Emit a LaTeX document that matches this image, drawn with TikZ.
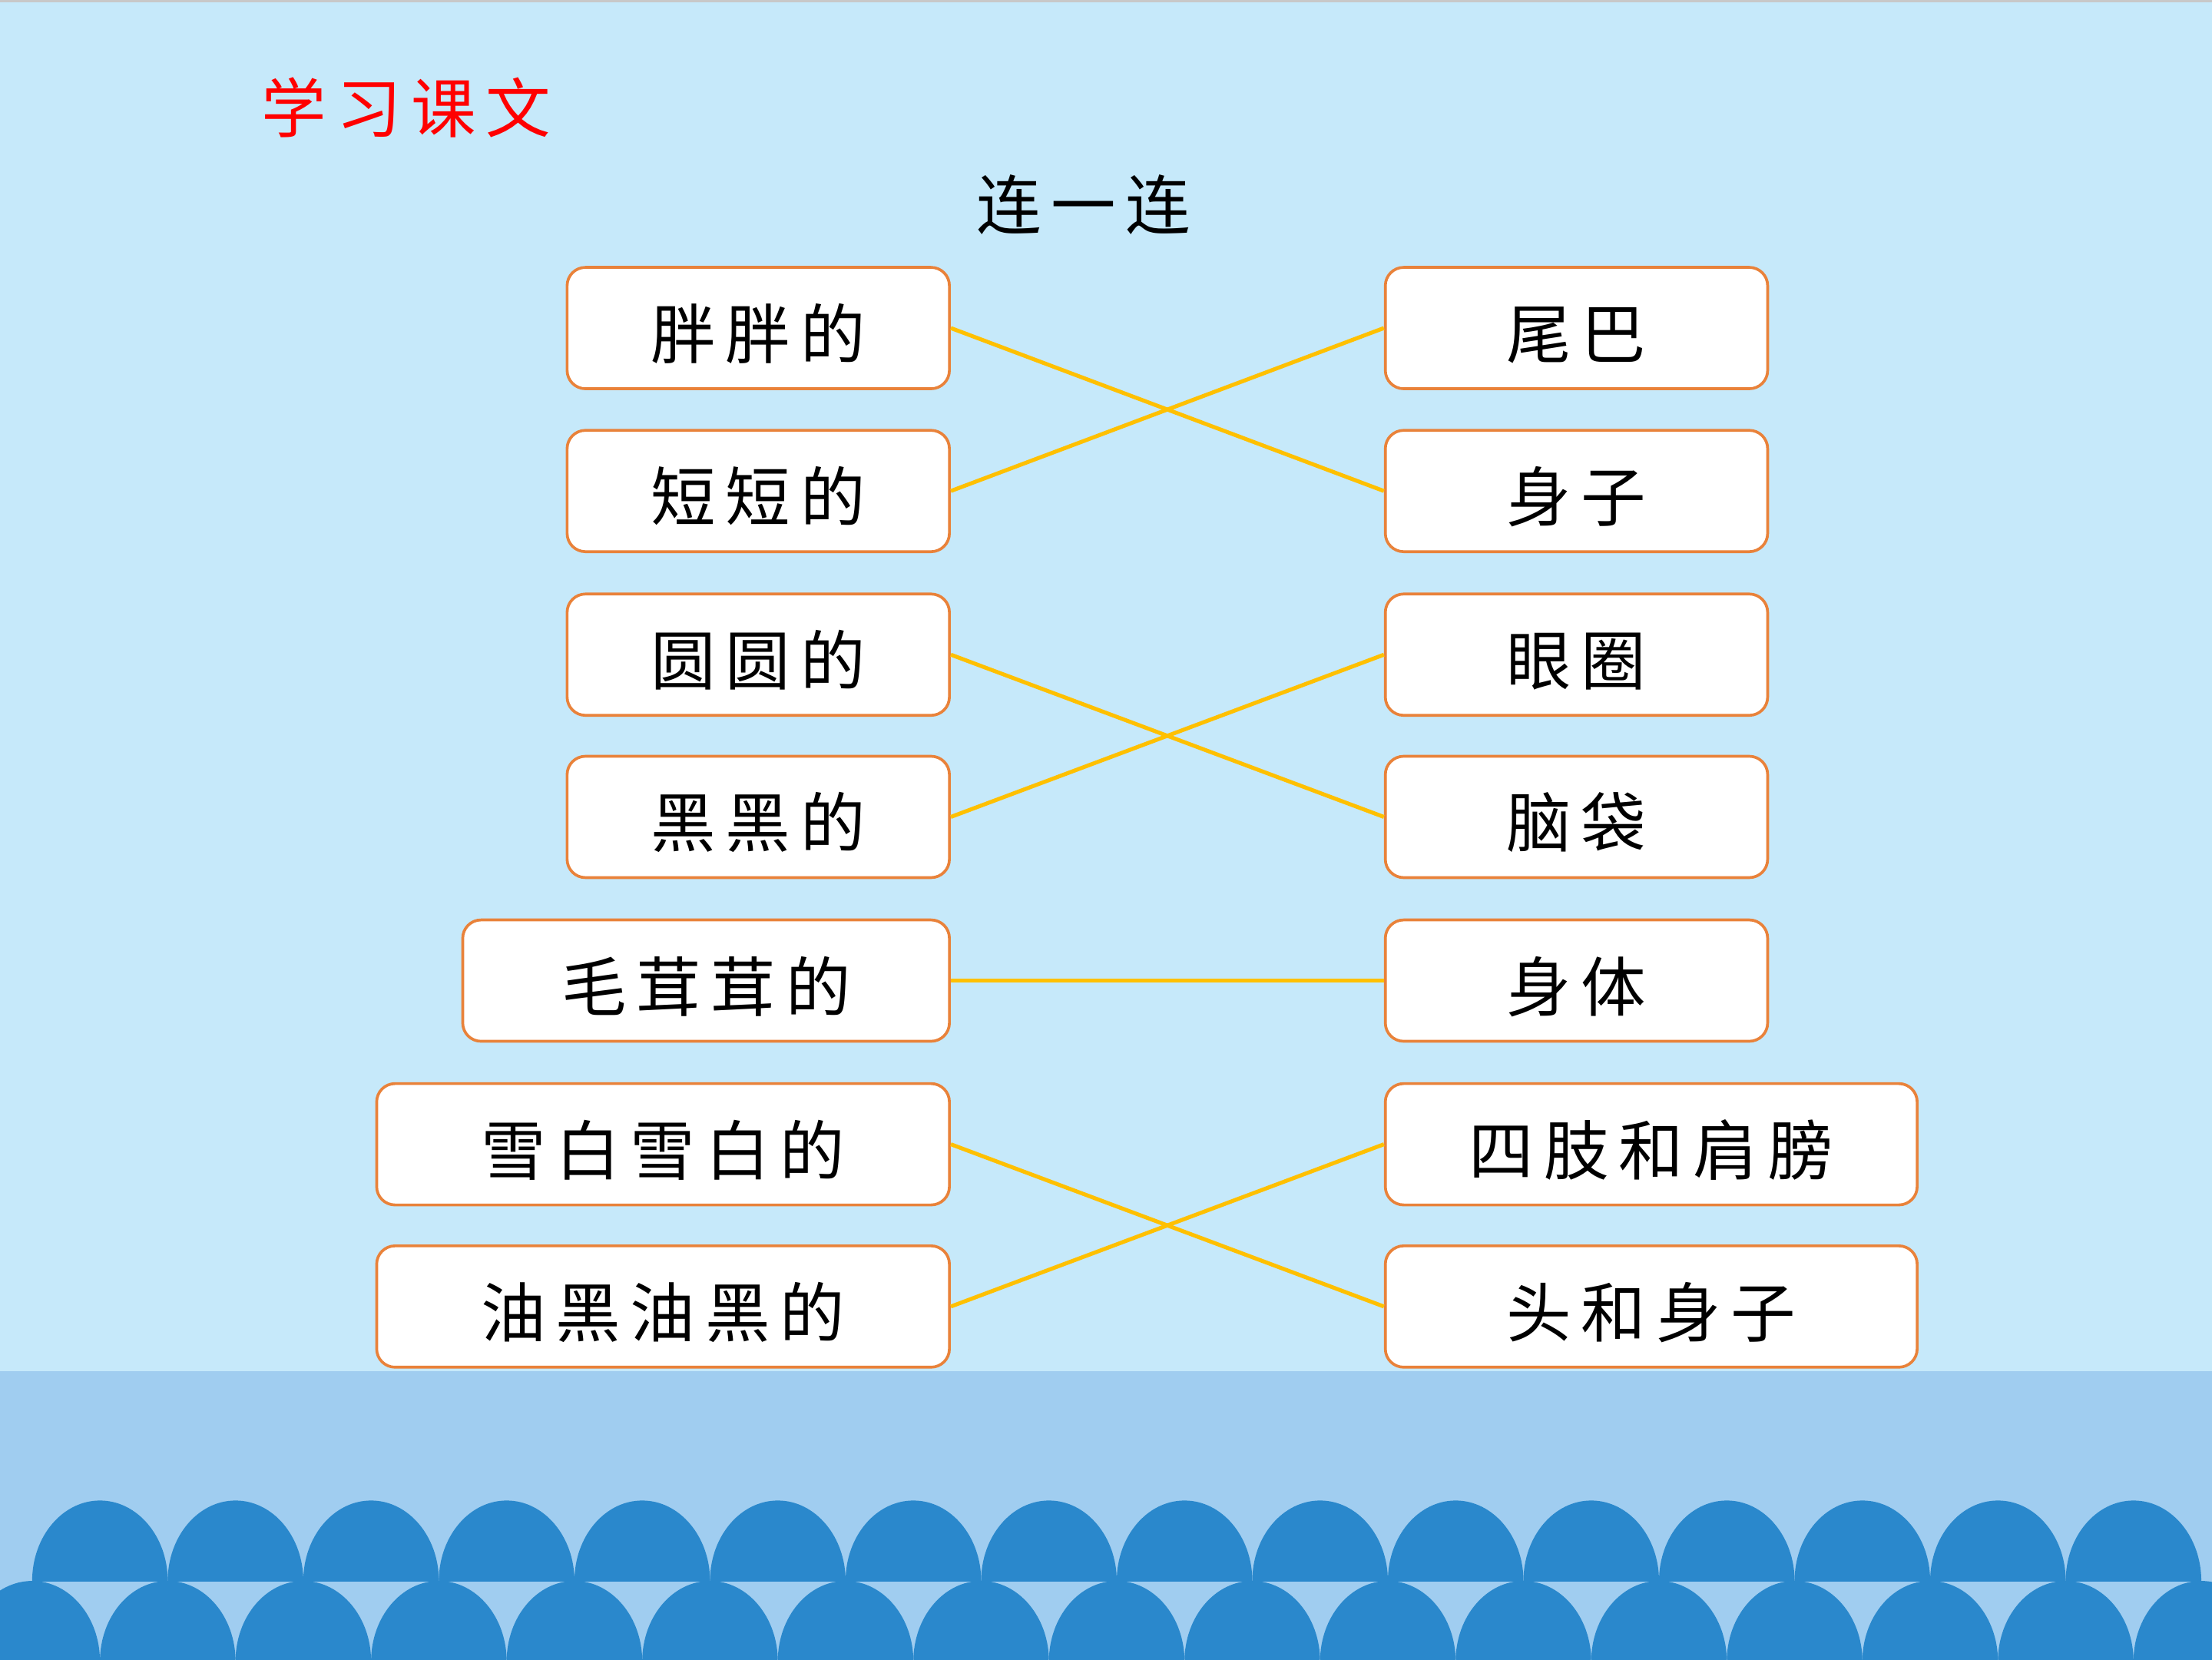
\documentclass[tikz,border=0pt]{standalone}
\usepackage{fontspec}
\newfontfamily\cjk{Noto Sans CJK SC}
\definecolor{bgtop}{HTML}{C6E9FA}
\definecolor{bgbot}{HTML}{A0CDF0}
\definecolor{wavec}{HTML}{2A88CC}
\definecolor{boxline}{HTML}{E9823A}
\definecolor{linkc}{HTML}{FFC000}
\definecolor{topgray}{HTML}{C8C8C8}
\newlength\lsgap
\setlength\lsgap{7pt}
\def\lsEnd{LSEND}
\newcommand\ls[1]{\lsA#1\lsEnd}
\def\lsA#1{#1\lsB}
\def\lsB#1{\ifx#1\lsEnd\else\hspace{\lsgap}#1\expandafter\lsB\fi}
\tikzset{
  wordbox/.style={draw=boxline, line width=2pt, fill=white, rounded corners=13pt,
    inner sep=0pt, minimum height=86pt, text height=43pt, text depth=0pt,
    font=\cjk\fontsize{46pt}{50pt}\selectfont},
  link/.style={draw=linkc, line width=2.8pt},
  heading/.style={inner sep=0pt, font=\cjk\fontsize{46pt}{50pt}\selectfont}
}
\begin{document}
\begin{tikzpicture}[x=1pt,y=-1pt]
\useasboundingbox (0,0) rectangle (1568,1176);
% background
\fill[bgtop] (0,0) rectangle (1568,972);
\fill[bgbot] (0,972) rectangle (1568,1176);
\fill[topgray] (0,0) rectangle (1568,1.8);
% waves
\begin{scope}
  \clip (0,972) rectangle (1568,1120.5);
  \foreach \k in {0,...,15}
    \fill[wavec] ({70.85+96.1*\k},1120.5) ellipse [x radius=48.05pt, y radius=57pt];
\end{scope}
\begin{scope}
  \clip (0,1120.5) rectangle (1568,1176);
  \foreach \k in {0,...,16}
    \fill[wavec] ({22.8+96.1*\k},1177.5) ellipse [x radius=48.05pt, y radius=57pt];
\end{scope}
% headings
\node[heading, text=red] (title) at (288,76) {\ls{学习课文}};
\node[heading, text=black] (sub) at (768,145) {\ls{连一连}};
% left boxes
\node[wordbox, minimum width=271pt] (L1) at (537.5,232.5) {\ls{胖胖的}};
\node[wordbox, minimum width=271pt] (L2) at (537.5,348) {\ls{短短的}};
\node[wordbox, minimum width=271pt] (L3) at (537.5,464) {\ls{圆圆的}};
\node[wordbox, minimum width=271pt] (L4) at (537.5,579) {\ls{黑黑的}};
\node[wordbox, minimum width=345pt] (L5) at (500.5,695) {\ls{毛茸茸的}};
\node[wordbox, minimum width=406pt] (L6) at (470,811) {\ls{雪白雪白的}};
\node[wordbox, minimum width=406pt] (L7) at (470,926) {\ls{油黑油黑的}};
% right boxes
\node[wordbox, minimum width=271pt] (R1) at (1117.5,232.5) {\ls{尾巴}};
\node[wordbox, minimum width=271pt] (R2) at (1117.5,348) {\ls{身子}};
\node[wordbox, minimum width=271pt] (R3) at (1117.5,464) {\ls{眼圈}};
\node[wordbox, minimum width=271pt] (R4) at (1117.5,579) {\ls{脑袋}};
\node[wordbox, minimum width=271pt] (R5) at (1117.5,695) {\ls{身体}};
\node[wordbox, minimum width=377pt] (R6) at (1170.5,811) {\ls{四肢和肩膀}};
\node[wordbox, minimum width=377pt] (R7) at (1170.5,926) {\ls{头和身子}};
% links
\draw[link] (L1.east) -- (R2.west);
\draw[link] (L2.east) -- (R1.west);
\draw[link] (L3.east) -- (R4.west);
\draw[link] (L4.east) -- (R3.west);
\draw[link] (L5.east) -- (R5.west);
\draw[link] (L6.east) -- (R7.west);
\draw[link] (L7.east) -- (R6.west);
\end{tikzpicture}
\end{document}
